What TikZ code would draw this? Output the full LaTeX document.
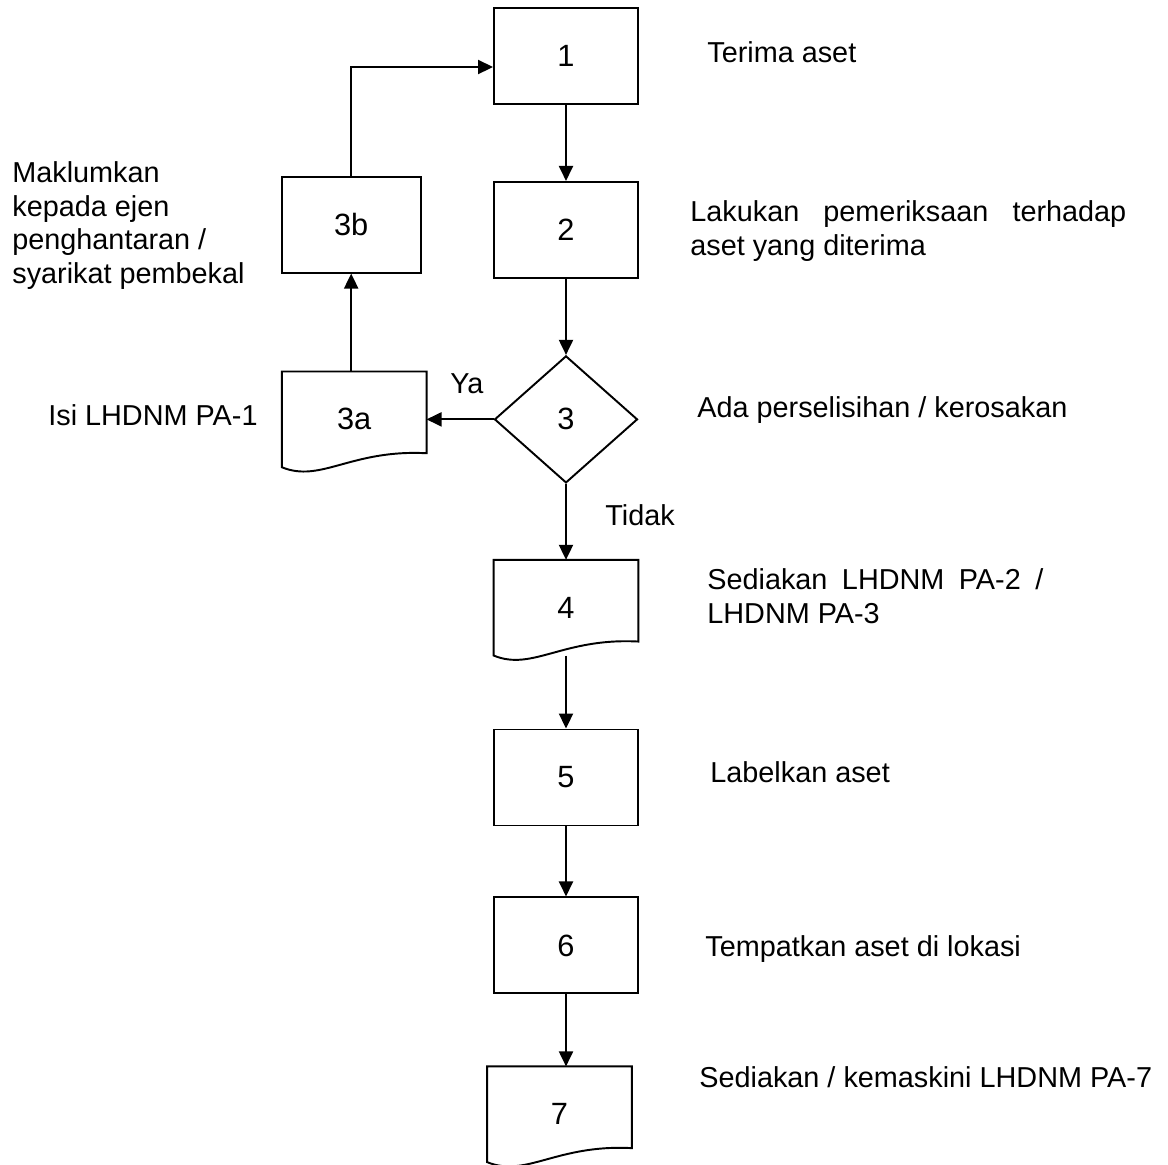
\documentclass[tikz,border=0pt]{standalone}
\usepackage{fontspec}
\setmainfont{Liberation Sans}
\usetikzlibrary{arrows.meta, calc, positioning, shapes.geometric}

% outline of a document box (wavy bottom edge)
\newcommand{\wavedoc}[1]{%
  \draw[line width=1.1pt] (#1.south west) -- (#1.north west) -- (#1.north east)
    -- ([yshift=0.28cm]#1.south east)
    .. controls ([xshift=1.38cm,yshift=0.36cm]#1.south west) and ([xshift=0.78cm,yshift=-0.32cm]#1.south west) .. (#1.south west) -- cycle;}

\begin{document}
\begin{tikzpicture}[
    node distance=1.52cm,
    font=\fontsize{16.4}{19}\selectfont,
    block/.style={rectangle, draw, line width=1.1pt, minimum width=2.88cm, minimum height=1.92cm, inner sep=0pt, font=\fontsize{17.5}{20}\selectfont},
    docblock/.style={rectangle, minimum width=2.88cm, minimum height=1.9cm, inner sep=0pt, font=\fontsize{17.5}{20}\selectfont},
    choice/.style={diamond, draw, line width=1.1pt, minimum width=2.86cm, minimum height=2.54cm, inner sep=0pt, font=\fontsize{17.5}{20}\selectfont},
    arrow/.style={-{Triangle[length=0.3cm, width=0.28cm]}, line width=1.1pt},
    note/.style={anchor=base west, inner sep=0pt, align=left}]

    \path[use as bounding box] (0,0) rectangle (23.36,-23.28);
    \clip (0,0) rectangle (23.36,-23.28);

    % main column
    \node[block] (b1) at (11.32,-1.12) {1};
    \node[block, below=of b1] (b2) {2};
    \node[choice, below=of b2] (d3) {3};
    \node[docblock, below=of d3] (b4) {4};
    \node[block, below=1.46cm of b4] (b5) {5};
    \node[block, below=1.40cm of b5] (b6) {6};
    \node[docblock, below=1.44cm of b6, xshift=-0.13cm] (b7) {7};
    \wavedoc{b4}
    \wavedoc{b7}

    % side branch
    \node[docblock, left=1.34cm of d3] (b3a) {3a};
    \node[block, above=1.96cm of b3a, minimum width=2.78cm, xshift=-0.06cm] (b3b) {3b};
    \wavedoc{b3a}

    \draw[arrow] (b1) -- (b2);
    \draw[arrow] (b2) -- (d3);
    \draw[arrow] (d3) -- (b4);
    \draw[arrow] (b4) -- (b5);
    \draw[arrow] (b5) -- (b6);
    \draw[arrow] (b6.south) -- (b6.south |- b7.north);
    \draw[arrow] (d3) -- (b3a);
    \draw[arrow] (b3a.north -| b3b) -- (b3b);
    \draw[arrow] (b3b) |- ([yshift=-0.22cm]b1.west);

    \node[note] (ya) at (9.0,-7.86) {Ya};
    \node[note] (tidak) at (12.1,-10.5) {Tidak};

    % descriptions
    \node[note] (t1) at (14.14,-1.24) {Terima aset};
    \node[note] (t2) at (13.80,-5.10) {\makebox[8.72cm][s]{Lakukan pemeriksaan terhadap}\\aset yang diterima};
    \node[note] (t3) at (13.94,-8.34) {Ada perselisihan / kerosakan};
    \node[note] (t4) at (14.14,-12.46) {\makebox[6.72cm][s]{Sediakan LHDNM PA-2 /}\\LHDNM PA-3};
    \node[note] (t5) at (14.2,-15.64) {Labelkan aset};
    \node[note] (t6) at (14.1,-19.12) {Tempatkan aset di lokasi};
    \node[note] (t7) at (13.98,-21.74) {Sediakan / kemaskini LHDNM PA-7};
    \node[note] (t3b) at (0.24,-5.66) {Maklumkan\\kepada ejen\\penghantaran /\\syarikat pembekal};
    \node[note] (t3a) at (0.96,-8.50) {Isi LHDNM PA-1};
\end{tikzpicture}
\end{document}
